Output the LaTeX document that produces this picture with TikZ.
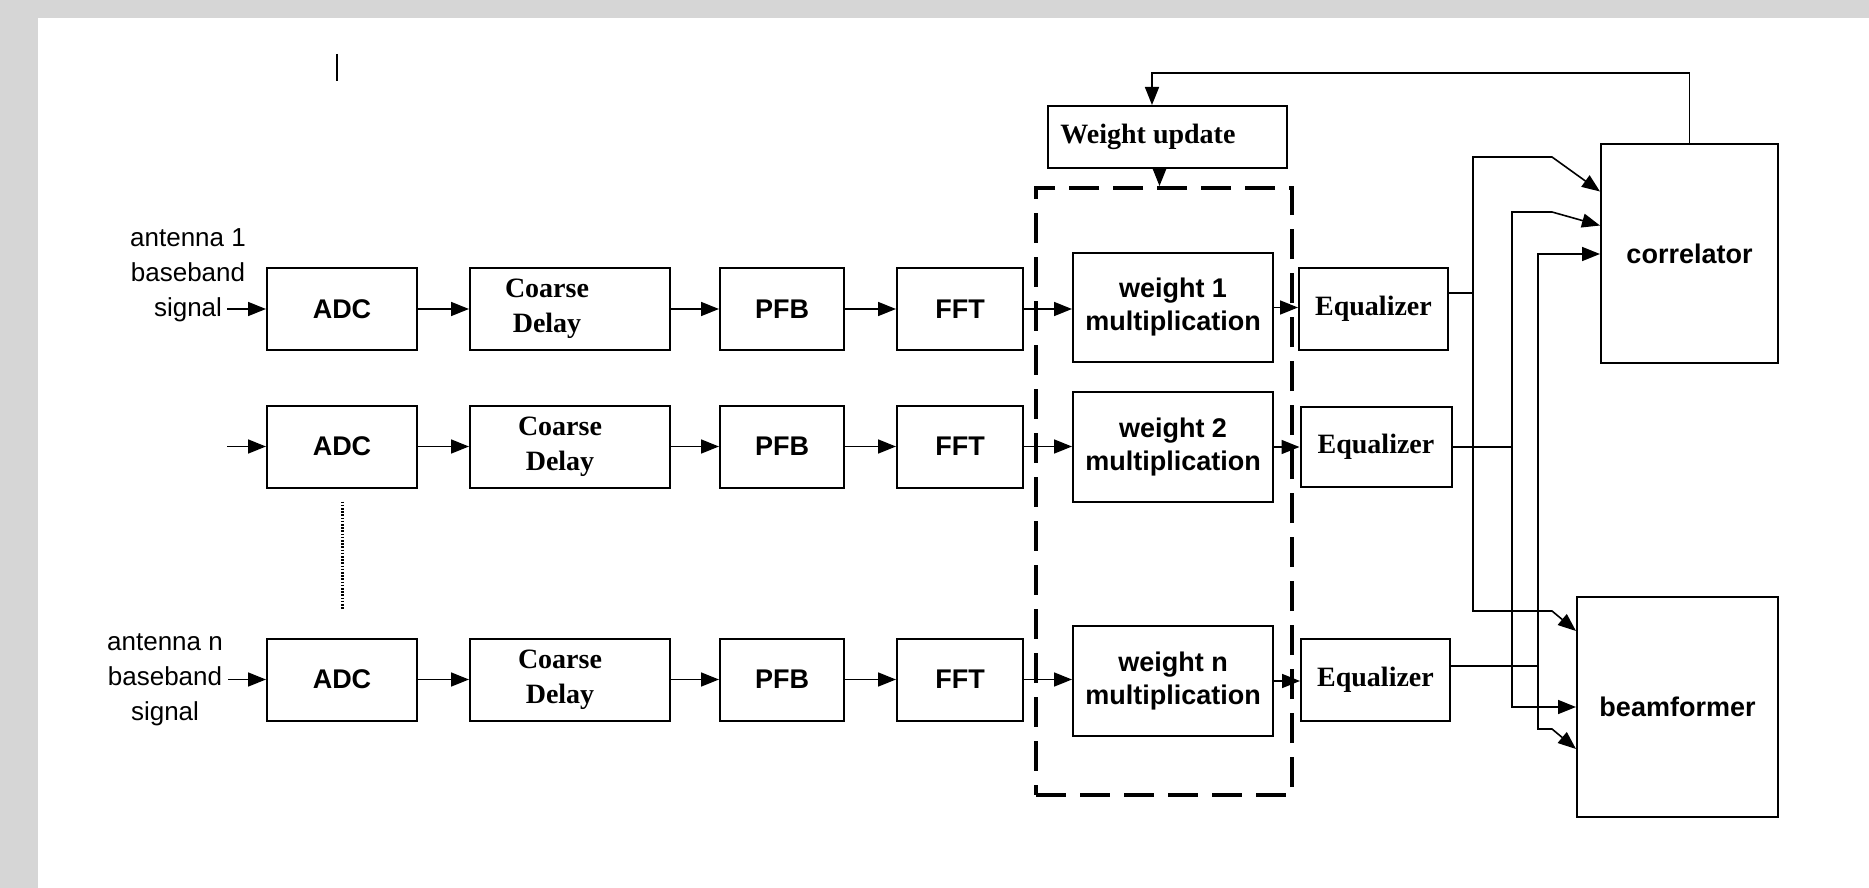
\documentclass[tikz,border=0pt]{standalone}
\usepackage{fontspec}
\setmainfont{Liberation Serif}
\setsansfont{Liberation Sans}
\usepackage[HTML]{xcolor}
\usepackage{tikz}
\usetikzlibrary{positioning, arrows.meta}

\definecolor{pagegray}{HTML}{D6D6D6}

\begin{document}
\begin{tikzpicture}[x=0.5pt, y=-0.5pt,
  box/.style={draw, line width=1pt, inner sep=0pt, minimum height=41pt, align=center,
    font=\sffamily\bfseries\fontsize{13.5}{16.5}\selectfont},
  tbox/.style={box, font=\bfseries\fontsize{14}{17.5}\selectfont},
  txt/.style={inner sep=0pt, align=center, font=\bfseries\fontsize{14}{17.5}\selectfont},
  ant/.style={inner sep=0pt, align=center, font=\sffamily\fontsize{13}{17.5}\selectfont},
  arr/.style={line width=0.8pt, -{Triangle[length=9pt,width=7pt]}},
  wire/.style={line width=0.8pt}]

% --- page ---
\useasboundingbox (0,0) rectangle (1869,888);
\fill[pagegray] (0,0) rectangle (1869,888);
\fill[white] (38,18) rectangle (1869,888);
\draw[line width=1pt] (337,54) -- (337,81);

% --- antenna 1 chain ---
\node[ant] (ant1) at (188,275) {antenna 1\\baseband\\signal};
\coordinate (in1) at (227,309);
\node[box, minimum width=75pt] (adc1) at (342,309) {ADC};
\node[box, minimum width=100pt] (dly1) at (570,309) {};
\node[txt] (dly1t) at (547,309) {Coarse\\Delay};
\node[box, minimum width=62pt] (pfb1) at (782,309) {PFB};
\node[box, minimum width=63pt] (fft1) at (960,309) {FFT};
\node[box, minimum width=100pt, minimum height=54.5pt] (wgt1) at (1173,307.5) {weight 1\\multiplication};
\node[tbox, minimum width=74.5pt] (eq1) at (1373.5,309) {Equalizer};

% --- antenna 2 chain ---
\coordinate (in2) at (227,446.5);
\node[box, minimum width=75pt] (adc2) at (342,446.5) {ADC};
\node[box, minimum width=100pt] (dly2) at (570,446.5) {};
\node[txt] (dly2t) at (560,446.5) {Coarse\\Delay};
\node[box, minimum width=62pt] (pfb2) at (782,446.5) {PFB};
\node[box, minimum width=63pt] (fft2) at (960,446.5) {FFT};
\node[box, minimum width=100pt, minimum height=55pt] (wgt2) at (1173,447) {weight 2\\multiplication};
\node[tbox, minimum width=75.5pt, minimum height=40pt] (eq2) at (1376,447) {Equalizer};

% --- antenna n chain ---
\node[ant] (antn) at (165,680) {antenna n\\baseband\\signal};
\coordinate (inn) at (228,679.5);
\node[box, minimum width=75pt] (adcn) at (342,679.5) {ADC};
\node[box, minimum width=100pt] (dlyn) at (570,679.5) {};
\node[txt] (dlynt) at (560,679.5) {Coarse\\Delay};
\node[box, minimum width=62pt] (pfbn) at (782,679.5) {PFB};
\node[box, minimum width=63pt] (fftn) at (960,679.5) {FFT};
\node[box, minimum width=100pt, minimum height=55pt] (wgtn) at (1173,681) {weight n\\multiplication};
\node[tbox, minimum width=74.5pt] (eqn) at (1375.5,680) {Equalizer};

\draw[line width=1.5pt, dash pattern=on 0.8pt off 0.8pt, shorten <=6.5pt, shorten >=14.5pt]
  (adc2.south) -- (adcn.north);

% --- weight update and group ---
\node[draw, line width=2pt, dash pattern=on 15pt off 7pt, inner sep=0pt,
  minimum width=128pt, minimum height=303.5pt] (grp) at (1164,491.5) {};
\node[tbox, minimum width=119.5pt, minimum height=31pt] (wu) at (1167.5,137) {};
\node[txt] (wut) at (1148,137) {Weight update};

% --- outputs ---
\node[box, minimum width=88.5pt, minimum height=109.5pt] (corr) at (1689.5,253.5) {correlator};
\node[box, minimum width=100.5pt, minimum height=110pt] (bf) at (1677.5,707) {beamformer};

% --- row arrows ---
\draw[arr] (in1) -- (adc1);
\draw[arr] (in2) -- (adc2);
\draw[arr] (inn) -- (adcn);
\draw[arr] (adc1) -- (dly1);
\draw[arr] (adc2) -- (dly2);
\draw[arr] (adcn) -- (dlyn);
\draw[arr] (dly1) -- (pfb1);
\draw[arr] (dly2) -- (pfb2);
\draw[arr] (dlyn) -- (pfbn);
\draw[arr] (pfb1) -- (fft1);
\draw[arr] (pfb2) -- (fft2);
\draw[arr] (pfbn) -- (fftn);
\draw[arr] (fft1) -- (fft1 -| wgt1.west);
\draw[arr] (fft2) -- (fft2 -| wgt2.west);
\draw[arr] (fftn) -- (fftn -| wgtn.west);
\draw[arr] (wgt1) -- (wgt1 -| eq1.west);
\draw[arr] (wgt2) -- (wgt2 -| eq2.west);
\draw[arr] (wgtn) -- (wgtn -| eqn.west);

% --- feedback ---
\coordinate (fb) at (1152,73);
\draw[arr] (corr.north) |- (fb) -- (fb |- wu.north);
\draw[arr] ([xshift=-4pt]wu.south) -- ([xshift=-4pt]wu.south |- grp.north);

% --- to correlator and beamformer ---
\coordinate (c1) at (1473,157);
\coordinate (c2) at (1512,212);
\coordinate (c3) at (1538,254);
\draw[arr] ([yshift=8pt]eq1.east) -| (c1) -- (1552,157) -- ([yshift=31pt]corr.west);
\draw[arr] (c1) -- (1473,611) -- (1552,611) -- ([yshift=38pt]bf.west);
\draw[arr] (eq2.east) -| (c2) -- (1552,212) -- ([yshift=14pt]corr.west);
\draw[arr] (eq2.east) -| (1512,707) -- (bf.west);
\draw[arr] ([yshift=7pt]eqn.east) -| (c3) -- (c3 -| corr.west);
\draw[arr] (c3) -- (1538,729) -- (1552,729) -- ([yshift=-21pt]bf.west);
\end{tikzpicture}
\end{document}
